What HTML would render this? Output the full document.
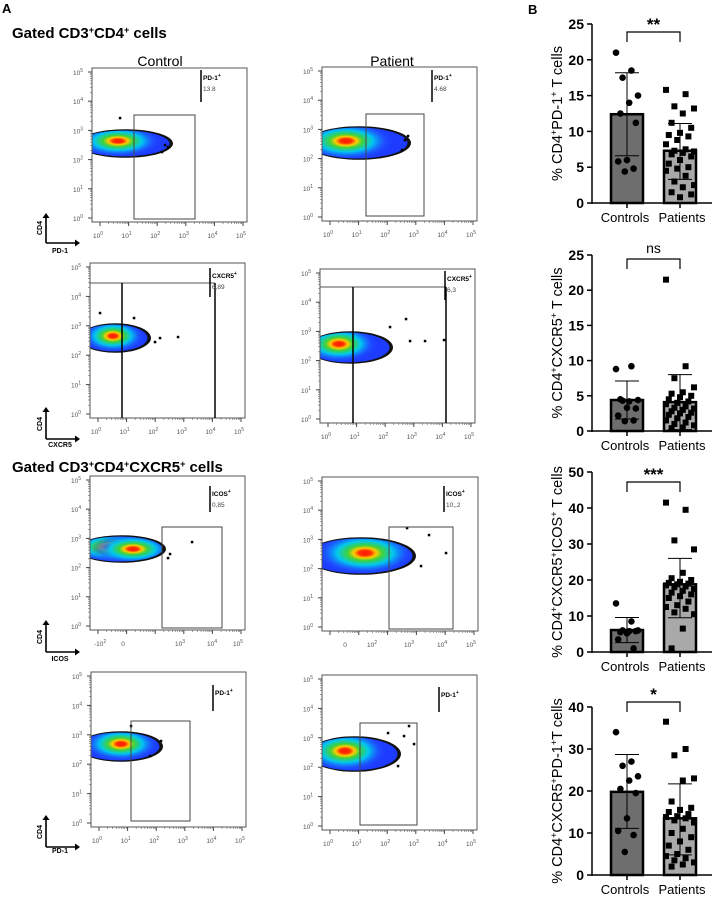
<!DOCTYPE html>
<html><head><meta charset="utf-8">
<style>
body{margin:0;background:#fff;}
svg{display:block;font-family:"Liberation Sans",Arial,sans-serif;}
</style></head>
<body>
<svg id="fig" width="719" height="898" viewBox="0 0 719 898" xmlns="http://www.w3.org/2000/svg">
<defs></defs>
<text x="2" y="13" font-size="13" font-weight="bold">A</text>
<text x="528" y="14" font-size="13" font-weight="bold">B</text>
<text x="12" y="38" font-size="15" font-weight="bold">Gated CD3<tspan dy="-5" font-size="9">+</tspan><tspan dy="5">CD4</tspan><tspan dy="-5" font-size="9">+</tspan><tspan dy="5"> cells</tspan></text>
<text x="12" y="472" font-size="15" font-weight="bold">Gated CD3<tspan dy="-5" font-size="9">+</tspan><tspan dy="5">CD4</tspan><tspan dy="-5" font-size="9">+</tspan><tspan dy="5">CXCR5</tspan><tspan dy="-5" font-size="9">+</tspan><tspan dy="5"> cells</tspan></text>
<text x="160" y="66" font-size="14" text-anchor="middle">Control</text>
<text x="392" y="66" font-size="14" text-anchor="middle">Patient</text>
<g id="flow"></g>
<g id="bars"></g>
</svg>
<script>
// ---- bar chart data ----
const barCategories = ['Controls','Patients'];
const chart1Ticks = [0,5,10,15,20,25];
const chart1Means = [12.4, 7.3];
const chart1ErrLow = [6.6, 3.3];
const chart1ErrHigh = [18.2, 11.1];
const chart1Controls = [21, 18.5, 17.5, 15, 14, 12.5, 11.2, 6.0, 5.8, 4.8, 4.4];
const chart1Patients = [15.8,15.2,13.5,13.2,12.5,11.2,10.5,9.8,9.5,9.3,8.8,8.2,7.5,7.3,7.2,7.0,6.8,6.5,6.0,5.5,5.0,4.8,4.5,3.8,3.0,2.5,2.2,1.5,1.2,0.8];
const chart2Ticks = [0,5,10,15,20,25];
const chart2Means = [4.4, 4.1];
const chart2ErrLow = [1.7, 0.2];
const chart2ErrHigh = [7.1, 8.0];
const chart2Controls = [8.8, 9.2, 4.3, 4.4, 4.2, 4.5, 3.2, 3.3, 2.2, 1.5, 1.4];
const chart2Patients = [21.5,9.2,7.5,6.2,5.5,5.3,5.0,4.8,4.5,4.2,4.0,3.8,3.5,3.3,3.2,3.0,2.8,2.6,2.5,2.3,2.0,1.8,1.5,1.2,1.0,0.8,0.5,0.4];
const chart3Ticks = [0,10,20,30,40,50];
const chart3Means = [6.1, 18.8];
const chart3ErrLow = [2.6, 9.5];
const chart3ErrHigh = [9.6, 26];
const chart3Controls = [13.5, 8.5, 6, 6, 5.8, 5.5, 5.8, 5.2, 3.5, 1];
const chart3Patients = [41.5,39.5,31,28.5,22,20.5,20,19.5,19.2,19,18.8,18.5,18.2,18,17.5,17,16.5,16,15.5,15,14,13,12.5,12,11,10.5,6.5,1];
const chart4Ticks = [0,10,20,30,40];
const chart4Means = [19.8, 13.5];
const chart4ErrLow = [11.1, 4.8];
const chart4ErrHigh = [28.7, 21.7];
const chart4Controls = [34, 27, 26, 23.5, 22.5, 20.5, 19.5, 13.5, 10.5, 9.5, 5.5];
const chart4Patients = [36.5,30,28.5,23,22.5,17.5,16,15.5,15,14.5,14,13.8,13.5,13,12.5,11,10,9,8,7,6,5,4.5,4,3.5,3,2.5,2];

const NS='http://www.w3.org/2000/svg';
function mk(tag, attrs, parent){const e=document.createElementNS(NS,tag);for(const k in attrs)e.setAttribute(k,attrs[k]);if(parent)parent.appendChild(e);return e;}

const charts = [
 {ticks:chart1Ticks,means:chart1Means,lo:chart1ErrLow,hi:chart1ErrHigh,c:chart1Controls,p:chart1Patients,y0:203,yTop:24,sig:'**',brY:32,title:['% CD4','+','PD-1','+',' T cells']},
 {ticks:chart2Ticks,means:chart2Means,lo:chart2ErrLow,hi:chart2ErrHigh,c:chart2Controls,p:chart2Patients,y0:431,yTop:255,sig:'ns',brY:259,title:['% CD4','+','CXCR5','+',' T cells']},
 {ticks:chart3Ticks,means:chart3Means,lo:chart3ErrLow,hi:chart3ErrHigh,c:chart3Controls,p:chart3Patients,y0:652,yTop:472,sig:'***',brY:482,title:['% CD4','+','CXCR5','+','ICOS','+',' T cells']},
 {ticks:chart4Ticks,means:chart4Means,lo:chart4ErrLow,hi:chart4ErrHigh,c:chart4Controls,p:chart4Patients,y0:875,yTop:707,sig:'*',brY:702,title:['% CD4','+','CXCR5','+','PD-1','+','T cells']}
];
const barsG=document.getElementById('bars');
const axisX=592, axisEnd=712, centers=[627,680], bw=32;
charts.forEach((ch,ci)=>{
  const g=mk('g',{},barsG);
  
  
  const max=ch.ticks[ch.ticks.length-1];
  const y=v=>ch.y0-v/max*(ch.y0-ch.yTop);
  ch.means.forEach((m,i)=>{
    const r=mk('rect',{x:centers[i]-bw/2,y:y(m),width:bw,height:ch.y0-y(m),fill:i==0?'#6e6e6e':'#a9a9a9',stroke:'#000','stroke-width':2.5},g);
    
    
  });
  [ch.c,ch.p].forEach((arr,i)=>{
    arr.forEach((v,k)=>{
      const off=((k*7)%11-5)*(i==0?2.2:2.8);
      if(i==0){const c=mk('circle',{cx:centers[i]+off,cy:y(v),r:3.3,fill:'#000'},g);
        
        }
      else{const s=mk('rect',{x:centers[i]+off-3,y:y(v)-3,width:6,height:6,fill:'#000'},g);
        
        }
    });
  });
  ch.means.forEach((m,i)=>{
    const cx=centers[i];
    mk('line',{x1:cx,x2:cx,y1:y(ch.lo[i]),y2:y(ch.hi[i]),stroke:'#000','stroke-width':1},g);
    mk('line',{x1:cx-12,x2:cx+12,y1:y(ch.hi[i]),y2:y(ch.hi[i]),stroke:'#000','stroke-width':1},g);
    mk('line',{x1:cx-12,x2:cx+12,y1:y(ch.lo[i]),y2:y(ch.lo[i]),stroke:'#000','stroke-width':1},g);
  });
  mk('line',{x1:axisX,x2:axisX,y1:ch.yTop,y2:ch.y0+1,stroke:'#000','stroke-width':1.5},g);
  mk('line',{x1:axisX,x2:axisEnd,y1:ch.y0,y2:ch.y0,stroke:'#000','stroke-width':1.5},g);
  ch.ticks.forEach(t=>{
    mk('line',{x1:axisX-5,x2:axisX,y1:y(t),y2:y(t),stroke:'#000','stroke-width':1.5},g);
    const tx=mk('text',{x:axisX-8,y:y(t)+5,'font-size':14,'font-weight':'bold','text-anchor':'end'},g);
    tx.textContent=t;
    
    
  });
  centers.forEach((cx,i)=>{
    mk('line',{x1:cx,x2:cx,y1:ch.y0,y2:ch.y0+5,stroke:'#000','stroke-width':1.5},g);
    const tx=mk('text',{x:cx+(i==0?-2:2),y:ch.y0+19,'font-size':13,'text-anchor':'middle'},g);
    tx.textContent=barCategories[i];
    
    
  });
  const by=ch.brY;
  mk('path',{d:`M${centers[0]} ${by+10}V${by}H${centers[1]}V${by+10}`,fill:'none',stroke:'#000','stroke-width':1.2},g);
  const st=mk('text',{x:(centers[0]+centers[1])/2,y:ch.sig=='ns'?by-6:by-2,'font-size':ch.sig=='ns'?14:17,'font-weight':ch.sig=='ns'?'normal':'bold','text-anchor':'middle'},g);
  st.textContent=ch.sig;
  
  
  const cy=(ch.y0+ch.yTop)/2;
  const tt=mk('text',{x:0,y:0,'font-size':14.5,'text-anchor':'middle',transform:`translate(562,${cy}) rotate(-90)`},g);
  
  
  ch.title.forEach(s=>{
    const sp=mk('tspan',{},tt);
    if(s=='+'){sp.setAttribute('dy','-5');sp.setAttribute('font-size','9');}
    else if(tt.childNodes.length>1 && tt.childNodes[tt.childNodes.length-2].textContent=='+'){sp.setAttribute('dy','5');}
    sp.textContent=s;
  });
});

// ---- flow plots ----
const flowG=document.getElementById('flow');
const plots=[
 {b:[92,68,247,222],blob:[92,172,130,157],hot:[[118,141]],gate:[134,115,195,219],lab:['PD-1','13.8'],lb:[201,70,102],xl:'def',name:'control-pd1',dots:[[165,145],[168,147],[162,152],[120,118]]},
 {b:[322,67,477,221],blob:[322,410,127,159],hot:[[346,141]],gate:[366,114,424,216],lab:['PD-1','4.68'],lb:[432,70,102],xl:'def',name:'patient-pd1',dots:[[405,140],[408,136],[402,150]]},
 {b:[90,263,245,418],blob:[90,150,324,352],hot:[[113,336]],lines:[[90,283,215,283],[122,283,122,418],[215,283,215,418]],lab:['CXCR5','6,89'],lb:[210,268,297],xl:'def',name:'control-cxcr5',dots:[[155,342],[160,338],[178,337],[100,313],[134,318]]},
 {b:[320,269,475,423],blob:[320,392,332,363],hot:[[339,344]],lines:[[320,287,446,287],[353,287,353,423],[446,287,446,423]],lab:['CXCR5','6,3'],lb:[445,271,300],xl:'def',name:'patient-cxcr5',dots:[[406,319],[410,341],[425,341],[444,340],[390,327]]},
 {b:[90,476,245,630],blob:[90,165,536,562],hot:[[110,547],[133,549]],gate:[162,527,222,628],lab:['ICOS','0,85'],lb:[210,486,512],xl:'icos',name:'control-icos',dots:[[192,542],[168,558],[170,554]]},
 {b:[322,477,478,631],blob:[322,415,538,574],hot:[[365,553]],gate:[389,527,453,629],lab:['ICOS','10,,2'],lb:[444,486,512],xl:'icos2',name:'patient-icos',dots:[[429,535],[446,553],[407,528],[421,566]]},
 {b:[91,672,246,827],blob:[91,162,732,761],hot:[[121,744]],gate:[131,721,190,821],lab:['PD-1',''],lb:[213,685,711],xl:'def',name:'control-pd1-cxcr5',dots:[[131,726],[150,756],[161,741]]},
 {b:[322,675,477,830],blob:[322,400,737,771],hot:[[345,751]],gate:[360,723,417,825],lab:['PD-1',''],lb:[439,687,712],xl:'def',name:'patient-pd1-cxcr5',dots:[[388,733],[409,726],[404,736],[414,744],[398,766]]}
];
let gid=0;
plots.forEach(p=>{
  const g=mk('g',{},flowG);
  
  
  const [x0,y0,x1,y1]=p.b;
  const defs=mk('defs',{},g);
  const [bx0,bx1,by0,by1]=p.blob;
  const cx=bx0+(bx1-bx0)*0.42, cy=(by0+by1)/2, rx=bx1-cx, ry=(by1-by0)/2;
  const clip=mk('clipPath',{id:'cl'+gid},defs);
  mk('rect',{x:x0,y:y0,width:x1-x0,height:y1-y0},clip);
  const blobG=mk('g',{'clip-path':`url(#cl${gid})`},g);
  mk('ellipse',{cx:cx,cy:cy,rx:rx+1,ry:ry+0.8,fill:'#111'},blobG);
  mk('ellipse',{cx:cx-1.5,cy:cy,rx:rx-1,ry:ry-0.6,fill:'#1d3cff'},blobG);
  p.hot.forEach((h,hi)=>{
    const id='rg'+gid+'_'+hi;
    const rg=mk('radialGradient',{id:id,gradientUnits:'userSpaceOnUse',cx:h[0],cy:h[1],r:rx*0.95,gradientTransform:`translate(${h[0]} ${h[1]}) scale(1 ${ry/rx*1.3}) translate(${-h[0]} ${-h[1]})`},defs);
    [[0,'#ff1a00',1],[0.12,'#ff3000',1],[0.22,'#ffcc00',1],[0.34,'#3fd23a',1],[0.55,'#00c8f0',1],[0.8,'#1e5bff',0.6],[1,'#1d3cff',0]].forEach(s=>mk('stop',{offset:s[0],'stop-color':s[1],'stop-opacity':s[2]},rg));
    mk('ellipse',{cx:cx-1.5,cy:cy,rx:rx-1,ry:ry-0.6,fill:`url(#${id})`},blobG);
  });
  (p.dots||[]).forEach(d=>mk('rect',{x:d[0]-1.2,y:d[1]-1.2,width:2.5,height:2.5,fill:'#000'},g));
  mk('rect',{x:x0,y:y0,width:x1-x0,height:y1-y0,fill:'none',stroke:'#555','stroke-width':1},g);
  const yl=i=>y1-4-(y1-y0-8)*i/5;
  for(let i=0;i<=5;i++){
    mk('line',{x1:x0-4,x2:x0,y1:yl(i),y2:yl(i),stroke:'#444','stroke-width':1},g);
    for(let m=2;m<10 && i<5;m++){const yy=yl(i)-(y1-y0-8)/5*Math.log10(m);mk('line',{x1:x0-2,x2:x0,y1:yy,y2:yy,stroke:'#666','stroke-width':0.6},g);}
    const t=mk('text',{x:x0-14,y:yl(i)+3,'font-size':6.5,fill:'#555','text-anchor':'middle'},g);
    t.innerHTML='10<tspan dy="-3" font-size="5">'+i+'</tspan>';
  }
  const xl=i=>x0+8+(x1-x0-12)*i/5;
  let labs;
  if(p.xl=='icos') labs=[[x0+10,'-10','2'],[x0+33,'0',''],[x0+90,'10','3'],[x0+122,'10','4'],[x0+148,'10','5']];
  else if(p.xl=='icos2') labs=[[x0+23,'0',''],[x0+50,'10','2'],[x0+87,'10','3'],[x0+120,'10','4'],[x0+149,'10','5']];
  else labs=[0,1,2,3,4,5].map(i=>[xl(i)-2,'10',''+i]);
  for(let i=0;i<=5;i++){
    mk('line',{x1:xl(i),x2:xl(i),y1:y1,y2:y1+4,stroke:'#444','stroke-width':1},g);
    for(let m=2;m<10 && i<5;m++){const xx=xl(i)+(x1-x0-12)/5*Math.log10(m);mk('line',{x1:xx,x2:xx,y1:y1,y2:y1+2,stroke:'#666','stroke-width':0.6},g);}
  }
  labs.forEach(l=>{const t=mk('text',{x:l[0],y:y1+16,'font-size':6.5,fill:'#555','text-anchor':'middle'},g);
    t.innerHTML=l[1]+(l[2]?'<tspan dy="-3" font-size="5">'+l[2]+'</tspan>':'');});
  if(p.gate){const [a,b,c,d]=p.gate;const r=mk('rect',{x:a,y:b,width:c-a,height:d-b,fill:'none',stroke:'#444','stroke-width':1},g);
    
    }
  (p.lines||[]).forEach(l=>mk('line',{x1:l[0],y1:l[1],x2:l[2],y2:l[3],stroke:l[0]==l[2]?'#000':'#555','stroke-width':l[0]==l[2]?1.5:1},g));
  mk('line',{x1:p.lb[0],x2:p.lb[0],y1:p.lb[1],y2:p.lb[2],stroke:'#000','stroke-width':1.5},g);
  const t1=mk('text',{x:p.lb[0]+2,y:p.lb[1]+10,'font-size':6.5,'font-weight':'bold'},g);
  t1.innerHTML=p.lab[0]+'<tspan dy="-3" font-size="5">+</tspan>';
  
  
  if(p.lab[1]){const t2=mk('text',{x:p.lb[0]+2,y:p.lb[1]+21,'font-size':6.5,fill:'#444'},g);t2.textContent=p.lab[1];}
  gid++;
});
[[213,243,'PD-1',253],[407,439,'CXCR5',447],[620,652,'ICOS',661],[815,847,'PD-1',853]].forEach(a=>{
  const g=mk('g',{},flowG);
  
  
  mk('path',{d:`M46 ${a[1]}V${a[0]+4}M46 ${a[1]}H76`,stroke:'#000','stroke-width':1.6,fill:'none'},g);
  mk('path',{d:`M42.5 ${a[0]+5}L46 ${a[0]}L49.5 ${a[0]+5}Z`,fill:'#000'},g);
  mk('path',{d:`M75 ${a[1]-3.5}L80 ${a[1]}L75 ${a[1]+3.5}Z`,fill:'#000'},g);
  const c=mk('text',{x:0,y:0,'font-size':7,'font-weight':'bold','text-anchor':'middle',transform:`translate(42,${a[1]-15}) rotate(-90)`},g);
  c.textContent='CD4';
  const x=mk('text',{x:60,y:a[3],'font-size':7,'font-weight':'bold','text-anchor':'middle'},g);
  x.textContent=a[2];
});
</script>
</body></html>
